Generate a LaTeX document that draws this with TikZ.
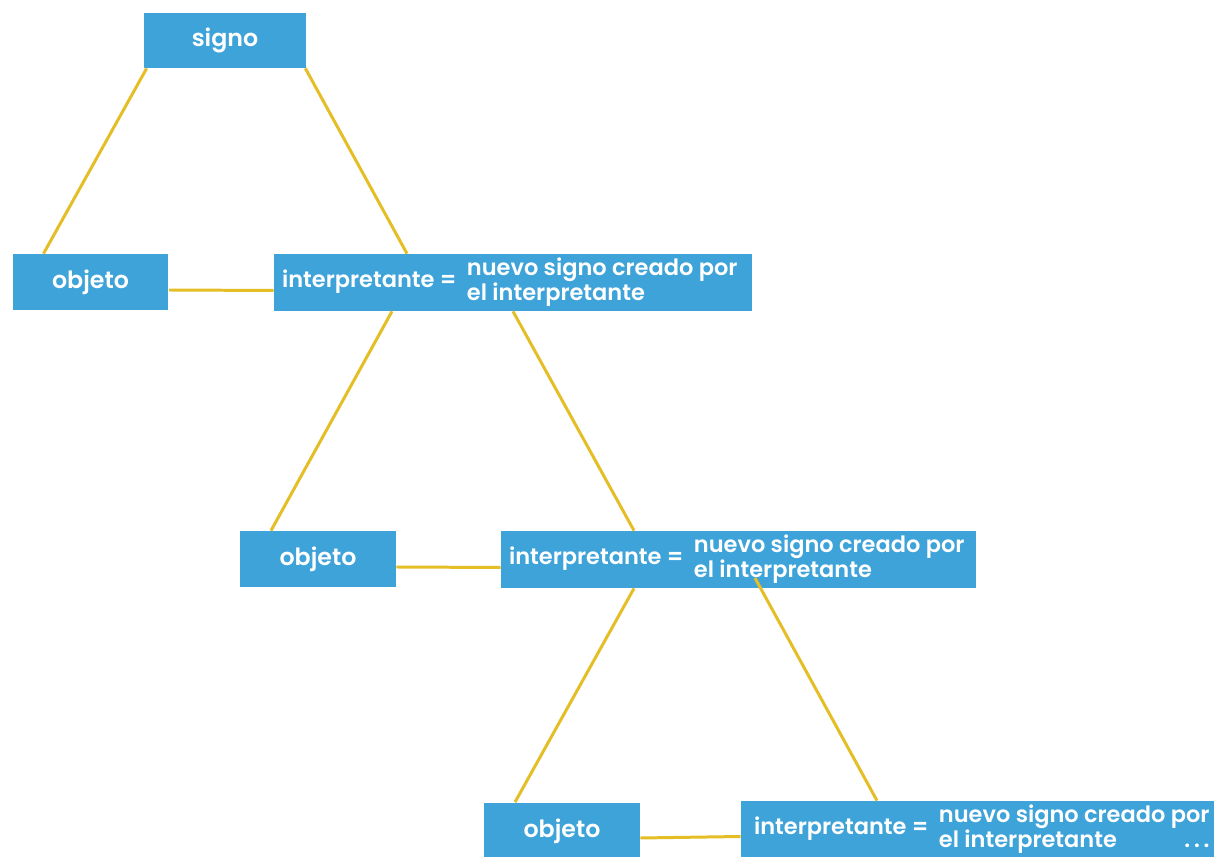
\documentclass[tikz,border=0pt]{standalone}
\usepackage{fontspec}
\setmainfont{Poppins}[BoldFont={Poppins SemiBold}]
\definecolor{boxblue}{RGB}{62,163,216}
\definecolor{lineyellow}{RGB}{229,190,38}
\newcommand{\nuevo}[2]{\makebox[#1][l]{\fontsize{12.8}{12.8}\selectfont interpretante =\hspace{6pt}\fontsize{12.8}{13}\selectfont\begin{tabular}[c]{@{}l@{}}nuevo signo creado por\\el interpretante#2\end{tabular}}}

\begin{document}
\begin{tikzpicture}
[x=0.02cm,y=-0.02cm,
 box/.style={fill=boxblue,text=white,font=\bfseries\fontsize{13.5}{12.5}\selectfont,inner sep=0pt,minimum width=3.12cm,minimum height=1.12cm},
 ibox/.style={box,inner xsep=0.16cm,minimum height=1.14cm},
 edge/.style={draw=lineyellow,line width=1.7pt}]

% the canvas
\useasboundingbox (0,0) rectangle (1214,857);
\fill[white] (0,0) rectangle (1214,857);

% the centres of the boxes
\coordinate (A) at (225,40.5);
\coordinate (B) at (90.5,282);
\coordinate (C) at (513,282.5);
\coordinate (D) at (318,559);
\coordinate (E) at (738.5,559.5);
\coordinate (F) at (562,831);
\coordinate (G) at (985,829.5);

% the boxes
\node[box,minimum width=3.24cm,minimum height=1.1cm] (signo) at (A) {signo};
\node[box] (obj1) at (B) {objeto};
\node[ibox] (int1) at (C) {\nuevo{9.24cm}{}};
\node[box] (obj2) at (D) {objeto};
\node[ibox] (int2) at (E) {\nuevo{9.18cm}{}};
\node[box,minimum height=1.14cm] (obj3) at (F) {objeto};
\node[ibox,inner xsep=0.26cm] (int3) at (G) {\nuevo{9.24cm}{\hfill.\,.\,.}};

% the edges
\draw[edge] ([shift={(3,0)}]signo.south west) -- ([shift={(-47,0)}]obj1.north);
\draw[edge] ([shift={(-1,0)}]signo.south east) -- ([shift={(-106,0)}]int1.north);
\draw[edge] ([shift={(0,8)}]obj1.east) -- ([shift={(0,8)}]int1.west);

\draw[edge] ([shift={(-121,0)}]int1.south) -- ([shift={(-47,0)}]obj2.north);
\draw[edge] (int1.south) -- ([shift={(-104.5,0)}]int2.north);
\draw[edge] ([shift={(0,8)}]obj2.east) -- ([shift={(0,8)}]int2.west);

\draw[edge] ([shift={(-104.5,0)}]int2.south) -- ([shift={(-47,0)}]obj3.north);
\draw[edge] ([shift={(16.5,18.5)}]int2.center) -- ([shift={(-108,0)}]int3.north);
\draw[edge] ([shift={(0,7)}]obj3.east) -- ([shift={(0,7)}]int3.west);

\end{tikzpicture}
\end{document}
